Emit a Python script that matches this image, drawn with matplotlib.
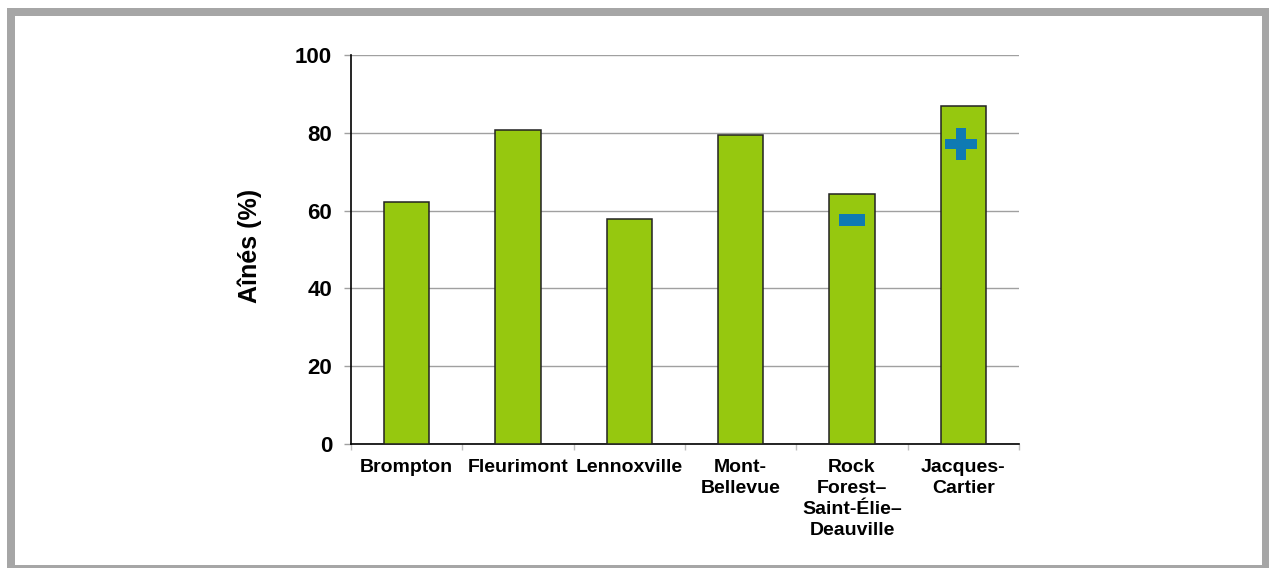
import matplotlib
matplotlib.use("Agg")
import matplotlib.pyplot as plt
from matplotlib.patches import Rectangle
from matplotlib.path import Path
import numpy as np

categories = ["Brompton", "Fleurimont", "Lennoxville", "Mont-\nBellevue",
              "Rock\nForest–\nSaint-Élie–\nDeauville", "Jacques-\nCartier"]
values = [62.3, 80.7, 57.9, 79.4, 64.3, 86.9]
signif = ["", "", "", "", "-", "+"]
signif_y = [None, None, None, None, 57.7, 77.2]
yticks = [0, 20, 40, 60, 80, 100]

plt.rcParams['font.family'] = ['Liberation Sans', 'DejaVu Sans']
plt.rcParams['font.weight'] = 'bold'

W, H = 1269, 568
fig = plt.figure(figsize=(W/100, H/100), dpi=100)
ax = fig.add_axes([351/W, (H-444)/H, (1019-351)/W, (444-55)/H])

x = np.arange(len(categories))
ax.bar(x, values, width=0.41, color="#96c80f", edgecolor="#222222", linewidth=1.1, zorder=3)

# significance markers
t = 0.14
plus_verts = [(-t, -0.5), (t, -0.5), (t, -t), (0.5, -t), (0.5, t), (t, t), (t, 0.5),
              (-t, 0.5), (-t, t), (-0.5, t), (-0.5, -t), (-t, -t), (-t, -0.5)]
plus_marker = Path(plus_verts, closed=True)
minus_verts = [(-0.5, -0.235), (0.5, -0.235), (0.5, 0.235), (-0.5, 0.235), (-0.5, -0.235)]
minus_marker = Path(minus_verts, closed=True)
for xi, s, sy in zip(x, signif, signif_y):
    if s == "+":
        ax.plot(xi - 0.025, sy, marker=plus_marker, markersize=32.5*0.72, color="#0f7ab3",
                markeredgewidth=0, linestyle="none", zorder=4)
    elif s == "-":
        ax.plot(xi, sy, marker=minus_marker, markersize=27*0.72, color="#0f7ab3",
                markeredgewidth=0, linestyle="none", zorder=4)

ax.set_xlim(-0.5, len(categories) - 0.5)
ax.set_ylim(0, 100)
ax.set_yticks(yticks)
ax.set_yticklabels([str(v) for v in yticks], fontsize=16, fontweight='bold')
ax.yaxis.grid(True, color="#a0a0a0", linewidth=1.0, zorder=0)
ax.set_axisbelow(True)
ax.tick_params(axis='y', length=5, width=1.0, color="#a0a0a0", pad=8.5)

ax.set_xticks(x)
ax.set_xticklabels(categories, fontsize=14, fontweight='bold', linespacing=1.32,
                   va='top', ha='center')
ax.tick_params(axis='x', which='major', length=0, pad=10.5)
ax.set_xticks(np.arange(-0.5, len(categories), 1.0), minor=True)
ax.tick_params(axis='x', which='minor', length=4, width=1.0, color="#c0c0c0")

for side in ["top", "right"]:
    ax.spines[side].set_visible(False)
ax.spines["left"].set_color("black")
ax.spines["bottom"].set_color("black")
ax.spines["left"].set_linewidth(1.2)
ax.spines["bottom"].set_linewidth(1.2)

ax.set_ylabel("Aînés (%)", fontsize=18, fontweight='bold')
ax.yaxis.set_label_coords(-0.133, 0.51)

# outer gray frame
fig.patches.append(Rectangle((11/W, -1/H), (1266-11)/W, (569-12)/H,
                             transform=fig.transFigure, fill=False,
                             edgecolor="#a6a6a6", linewidth=8*0.72, joinstyle='miter'))

fig.savefig("out.png", dpi=100)
